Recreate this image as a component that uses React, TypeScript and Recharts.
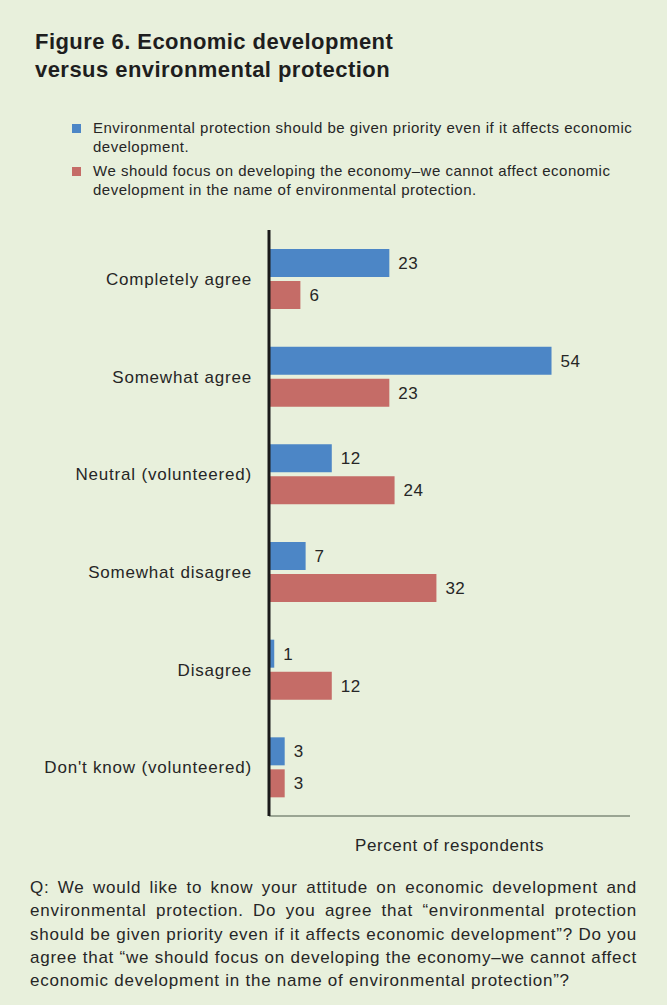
import React from 'react';
import { BarChart, Bar, XAxis, YAxis, LabelList, Label } from 'recharts';

const categories = [
  'Completely agree',
  'Somewhat agree',
  'Neutral (volunteered)',
  'Somewhat disagree',
  'Disagree',
  "Don't know (volunteered)",
];
const envPriority = [23, 54, 12, 7, 1, 3];
const econPriority = [6, 23, 24, 32, 12, 3];

const legendItems = [
  { color: '#4c86c6', lines: ['Environmental protection should be given priority even if it affects economic', 'development.'] },
  { color: '#c56c67', lines: ['We should focus on developing the economy\u2013we cannot affect economic', 'development in the name of environmental protection.'] },
];

const footerLines = [
  'Q: We would like to know your attitude on economic development and',
  'environmental protection. Do you agree that \u201cenvironmental protection',
  'should be given priority even if it affects economic development\u201d? Do you',
  'agree that \u201cwe should focus on developing the economy\u2013we cannot affect',
  'economic development in the name of environmental protection\u201d?',
];

const data = categories.map((name, i) => ({ name, env: envPriority[i], econ: econPriority[i] }));

const FONT = '"Liberation Sans", Arial, Helvetica, sans-serif';
const TEXT = '#262626';
const labelStyle = { fontSize: 17, fill: TEXT, fontFamily: FONT, letterSpacing: 0.5 };

export default function App() {
  return (
    <div style={{ position: 'absolute', left: 0, top: 0, width: 667, height: 1005, background: '#e8f0dc', fontFamily: FONT, color: TEXT, overflow: 'hidden' }}>
      <div style={{ position: 'absolute', left: 35, top: 28, fontSize: 22, fontWeight: 'bold', lineHeight: '28px', letterSpacing: 0.45, color: '#1e1e1e' }}>
        Figure 6. Economic development<br />versus environmental protection
      </div>

      {legendItems.map((item, i) => (
        <div key={i} style={{ position: 'absolute', left: 72, top: 118 + i * 43, display: 'flex' }}>
          <div style={{ width: 9, height: 9, background: item.color, marginTop: 6, marginRight: 12 }} />
          <div style={{ fontSize: 15, lineHeight: '19px', letterSpacing: 0.5 }}>
            {item.lines.map((l, j) => <div key={j}>{l}</div>)}
          </div>
        </div>
      ))}

      <div style={{ position: 'absolute', left: 0, top: 220 }}>
        <BarChart
          width={667}
          height={660}
          data={data}
          layout="vertical"
          margin={{ top: 10, right: 37, left: 0, bottom: 0 }}
          barSize={28}
          barGap={4}
        >
          <XAxis
            type="number"
            domain={[0, 69]}
            tick={false}
            tickLine={false}
            axisLine={{ stroke: '#9aa593', strokeWidth: 2 }}
            height={64}
          >
            <Label value="Percent of respondents" position="insideBottom" offset={29} style={{ ...labelStyle, letterSpacing: 0.6 }} />
          </XAxis>
          <YAxis
            type="category"
            dataKey="name"
            width={269}
            tickLine={false}
            tickSize={6}
            tickMargin={11}
            axisLine={{ stroke: '#1a1a1a', strokeWidth: 3 }}
            tick={{ ...labelStyle, letterSpacing: 0.8 }}
          />
          <Bar dataKey="env" fill="#4c86c6" isAnimationActive={false}>
            <LabelList dataKey="env" position="right" offset={9} style={labelStyle} />
          </Bar>
          <Bar dataKey="econ" fill="#c56c67" isAnimationActive={false}>
            <LabelList dataKey="econ" position="right" offset={9} style={labelStyle} />
          </Bar>
        </BarChart>
      </div>

      <div style={{ position: 'absolute', left: 30, top: 876, width: 607, fontSize: 17, lineHeight: '23.3px', letterSpacing: 0.75 }}>
        {footerLines.map((l, i) => (
          <div key={i} style={{ whiteSpace: 'nowrap', textAlign: i < footerLines.length - 1 ? 'justify' : 'left', textAlignLast: i < footerLines.length - 1 ? 'justify' : 'left' }}>{l}</div>
        ))}
      </div>
    </div>
  );
}
